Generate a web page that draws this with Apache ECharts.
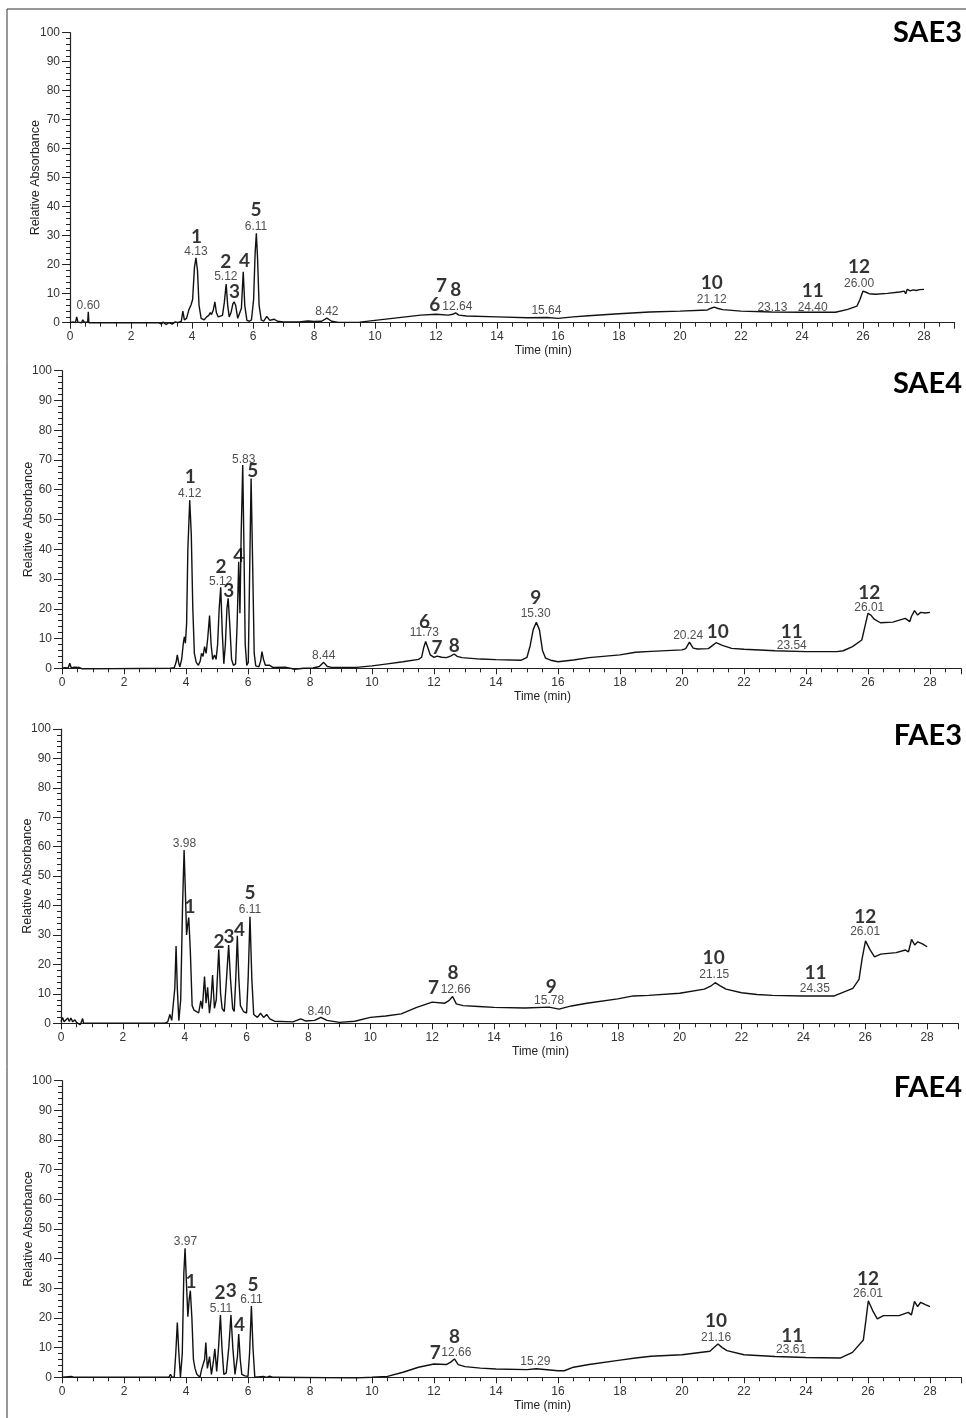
<!DOCTYPE html>
<html>
<head>
<meta charset="utf-8">
<script src="https://cdn.jsdelivr.net/npm/echarts@6/dist/echarts.min.js"></script>
<style>
html,body{margin:0;padding:0;background:#fff;}
#chart{width:966px;height:1418px;}
</style>
</head>
<body>
<div id="chart"></div>
<script>
// ---------- DATA ----------
const panelNames = ['SAE3', 'SAE4', 'FAE3', 'FAE4'];
const xTitle = 'Time (min)';
const yTitle = 'Relative Absorbance';

// SAE3
const t1 = [0.00,0.10,0.18,0.22,0.26,0.32,0.38,0.42,0.47,0.52,0.58,0.60,0.62,0.70,2.90,3.00,3.05,3.15,3.25,3.35,3.45,3.55,3.65,3.70,3.75,3.82,3.90,3.97,4.02,4.08,4.13,4.18,4.23,4.30,4.40,4.48,4.55,4.60,4.64,4.70,4.75,4.80,4.86,4.92,5.00,5.06,5.12,5.17,5.22,5.28,5.34,5.38,5.43,5.50,5.56,5.62,5.68,5.73,5.80,5.88,5.95,6.02,6.07,6.11,6.15,6.20,6.27,6.35,6.45,6.55,6.62,6.70,6.80,7.00,7.50,7.80,8.00,8.25,8.42,8.58,8.80,9.50,10.00,10.50,11.00,11.50,12.00,12.40,12.55,12.64,12.75,13.00,14.00,15.00,15.64,16.00,16.50,17.00,18.00,19.00,20.00,20.90,21.00,21.12,21.25,21.40,22.00,23.00,24.00,25.10,25.50,25.80,25.90,26.00,26.10,26.20,26.40,26.80,27.20,27.35,27.40,27.45,27.55,27.65,27.75,27.85,28.00];
const v1 = [0.0,0.3,0.0,2.0,0.2,0.8,0.0,1.0,0.2,0.0,0.2,3.8,0.0,0.0,0.0,-0.5,0.2,-0.6,0.0,-0.5,0.3,0.0,0.5,4.0,1.0,1.5,4.5,6.2,8.0,19.0,22.4,18.0,6.0,1.5,1.0,2.0,2.5,3.5,2.8,4.5,7.2,3.5,2.0,2.0,2.5,7.0,13.3,6.0,2.0,3.5,6.5,7.2,6.0,1.5,1.0,5.0,17.6,6.0,0.8,0.5,1.0,8.0,24.0,30.8,22.0,6.0,1.0,0.5,2.2,0.8,1.0,1.2,0.5,0.3,0.3,0.6,0.4,0.5,1.6,0.5,0.1,0.2,0.8,1.4,2.0,2.6,2.9,2.6,2.9,3.4,2.6,2.3,2.0,1.7,1.8,1.5,2.0,2.4,3.1,3.7,4.0,4.4,4.9,5.4,4.9,4.5,4.0,3.7,3.6,3.6,4.6,5.7,8.0,10.9,10.5,10.0,9.8,10.1,10.6,10.9,10.0,11.5,11.0,11.3,11.1,11.4,11.5];

// SAE4
const t2 = [0.00,0.10,0.20,0.25,0.30,0.40,0.45,0.55,0.65,0.70,3.50,3.55,3.62,3.68,3.72,3.76,3.80,3.86,3.92,3.95,3.98,4.02,4.06,4.12,4.17,4.22,4.27,4.33,4.40,4.46,4.50,4.55,4.60,4.65,4.70,4.76,4.81,4.86,4.92,4.97,5.02,5.07,5.12,5.17,5.22,5.27,5.32,5.36,5.41,5.47,5.53,5.60,5.65,5.70,5.74,5.78,5.83,5.87,5.91,5.96,6.01,6.05,6.10,6.15,6.20,6.25,6.35,6.41,6.45,6.50,6.56,6.62,6.70,6.80,7.20,7.50,7.80,8.10,8.30,8.44,8.56,8.70,9.50,10.00,10.50,11.00,11.50,11.60,11.67,11.73,11.80,11.88,12.00,12.10,12.25,12.40,12.55,12.65,12.75,12.90,13.50,14.00,14.80,15.00,15.10,15.20,15.30,15.40,15.50,15.60,15.80,16.00,16.50,17.00,18.00,18.50,19.00,20.00,20.12,20.24,20.36,20.50,20.85,21.00,21.10,21.30,21.60,22.00,23.00,24.00,25.00,25.20,25.50,25.80,25.90,26.00,26.10,26.20,26.40,26.80,27.20,27.35,27.40,27.50,27.60,27.70,27.85,28.00];
const v2 = [0.0,0.2,0.1,1.7,0.1,0.4,0.0,0.3,-0.2,0.0,0.0,-0.4,0.2,2.0,4.5,2.0,0.5,3.0,9.0,10.6,8.4,15.0,40.0,56.5,45.0,20.0,5.0,2.0,1.0,2.5,5.0,4.0,7.3,5.0,10.0,17.7,8.0,3.0,4.5,3.0,8.0,20.0,27.2,12.0,1.5,8.0,20.0,23.5,15.0,3.0,1.0,1.5,15.0,35.8,18.5,45.0,68.3,40.0,8.0,1.0,2.0,30.0,63.8,35.0,5.0,0.8,0.5,2.5,5.6,3.0,1.0,1.5,1.0,0.3,0.4,-0.3,0.0,0.1,0.6,2.0,0.6,0.3,0.3,0.8,1.5,2.2,3.0,3.7,7.0,9.0,7.0,4.5,3.7,4.1,3.7,3.6,4.2,4.8,4.0,3.6,3.1,2.9,2.7,3.7,7.5,13.0,15.5,13.0,6.0,3.4,2.6,2.2,2.8,3.6,4.5,5.4,5.7,6.2,6.6,8.8,6.8,6.5,6.6,7.8,8.6,7.7,6.7,6.4,5.9,5.6,5.6,5.9,7.3,9.5,14.0,18.5,17.8,16.5,15.3,15.5,16.8,15.7,17.4,19.4,17.9,18.8,18.6,18.8];

// FAE3
const t3 = [0.00,0.05,0.10,0.15,0.22,0.27,0.32,0.38,0.45,0.50,0.56,0.62,0.66,0.70,0.73,0.80,3.35,3.40,3.45,3.52,3.58,3.63,3.68,3.72,3.76,3.81,3.87,3.93,3.98,4.02,4.06,4.09,4.13,4.18,4.24,4.30,4.38,4.45,4.52,4.57,4.64,4.69,4.74,4.80,4.85,4.90,4.96,5.02,5.10,5.16,5.21,5.28,5.35,5.42,5.48,5.55,5.60,5.65,5.70,5.75,5.80,5.90,6.00,6.05,6.11,6.17,6.23,6.35,6.45,6.55,6.65,6.75,6.90,7.50,7.75,7.90,8.20,8.40,8.60,9.00,9.50,10.00,10.50,11.00,11.50,12.00,12.40,12.55,12.66,12.78,13.00,13.50,14.00,15.00,15.78,16.10,16.50,17.00,18.00,18.50,19.00,20.00,20.80,21.00,21.15,21.30,21.50,22.00,22.50,23.00,24.00,25.00,25.20,25.60,25.80,25.90,26.01,26.15,26.30,26.50,27.00,27.30,27.40,27.50,27.60,27.70,27.85,28.00];
const v3 = [0.5,2.0,0.5,0.3,1.8,0.6,1.8,0.5,1.2,0.3,0.8,-0.5,0.5,1.6,0.0,0.0,0.0,-0.5,0.5,3.0,1.0,0.5,12.0,26.3,12.0,0.9,8.0,40.0,58.9,45.0,30.0,33.0,35.9,25.0,6.0,4.5,4.0,3.5,7.6,5.0,15.9,6.8,12.2,3.4,8.0,16.4,5.1,8.0,25.1,10.0,5.0,4.0,15.0,26.6,15.0,5.0,4.0,15.0,29.7,15.0,6.0,4.0,3.5,15.0,36.2,15.0,3.0,2.0,3.4,2.0,3.0,1.5,0.7,0.5,1.5,0.8,1.0,2.0,1.0,0.3,0.7,2.0,2.5,3.2,5.4,7.2,6.8,7.8,9.1,6.6,6.0,5.7,5.4,5.2,5.5,4.8,5.9,6.8,8.3,9.3,9.5,10.2,11.6,12.6,13.8,12.8,11.6,10.4,9.8,9.5,9.3,9.3,10.2,11.9,14.9,22.0,28.0,25.1,22.6,23.5,24.0,24.9,24.3,28.5,26.6,27.7,27.0,26.0];

// FAE4
const t4 = [0.00,0.30,0.40,3.45,3.50,3.55,3.62,3.67,3.72,3.77,3.82,3.88,3.93,3.97,4.01,4.06,4.10,4.14,4.19,4.24,4.29,4.35,4.45,4.50,4.55,4.60,4.64,4.69,4.76,4.82,4.88,4.93,4.99,5.05,5.11,5.16,5.22,5.30,5.38,5.45,5.51,5.58,5.62,5.66,5.70,5.75,5.80,5.90,6.00,6.05,6.11,6.16,6.22,6.50,6.60,6.70,6.80,9.50,10.00,10.50,11.00,11.50,12.00,12.40,12.55,12.66,12.78,13.00,13.50,14.00,15.00,15.30,16.00,16.20,16.50,17.00,18.00,18.50,19.00,20.00,20.90,21.05,21.16,21.30,21.45,22.00,23.00,24.00,25.10,25.50,25.85,25.93,26.01,26.15,26.30,26.50,27.00,27.30,27.40,27.50,27.60,27.70,27.85,28.00];
const v4 = [0.0,0.3,0.0,0.0,1.0,0.0,0.0,8.0,18.5,8.0,0.0,8.0,35.0,43.5,33.0,20.4,26.0,29.2,20.0,6.0,3.0,1.0,0.0,2.5,2.0,6.0,11.7,3.0,7.0,1.0,5.0,9.6,2.0,10.0,21.0,10.0,1.0,1.5,10.0,21.0,10.0,1.0,0.5,7.0,14.6,6.0,1.0,0.5,0.3,8.0,24.0,10.0,0.0,0.3,0.0,0.4,0.0,-0.2,0.0,0.3,1.7,3.4,4.5,4.3,5.2,6.2,4.3,3.6,3.1,2.8,2.6,2.9,2.2,2.2,3.4,4.3,5.8,6.5,7.1,7.6,8.8,10.2,11.2,10.0,9.0,7.6,7.0,6.7,6.5,8.4,12.6,19.0,25.8,22.5,19.7,20.8,20.8,21.9,21.0,25.6,23.8,25.3,24.5,23.8];

// Peak number labels [time, absorbance, text]
const peaks1 = [[4.15,29.7,'1'],[5.11,21.0,'2'],[5.39,10.7,'3'],[5.72,21.4,'4'],[6.10,38.9,'5'],[11.96,6.3,'6'],[12.18,12.8,'7'],[12.65,11.2,'8'],[21.04,13.6,'10'],[24.35,11.0,'11'],[25.87,19.2,'12']];
const peaks2 = [[4.14,64.4,'1'],[5.13,34.2,'2'],[5.38,26.1,'3'],[5.70,37.9,'4'],[6.15,66.4,'5'],[11.69,15.7,'6'],[12.10,6.9,'7'],[12.65,7.5,'8'],[15.28,23.5,'9'],[21.15,12.2,'10'],[23.54,12.3,'11'],[26.04,25.4,'12']];
const peaks3 = [[4.17,39.6,'1'],[5.11,27.7,'2'],[5.43,29.4,'3'],[5.77,31.9,'4'],[6.11,44.4,'5'],[12.04,12.2,'7'],[12.67,17.0,'8'],[15.85,12.5,'9'],[21.10,22.1,'10'],[24.39,17.2,'11'],[26.00,36.2,'12']];
const peaks4 = [[4.16,32.2,'1'],[5.10,28.3,'2'],[5.46,29.0,'3'],[5.73,17.6,'4'],[6.16,31.1,'5'],[12.04,8.1,'7'],[12.66,13.7,'8'],[21.10,19.1,'10'],[23.56,14.0,'11'],[26.00,33.1,'12']];

// Retention time labels [time, absorbance, text]
const rts1 = [[0.60,5.7,'0.60'],[4.13,24.5,'4.13'],[5.11,15.9,'5.12'],[6.10,33.1,'6.11'],[8.42,3.9,'8.42'],[12.70,5.5,'12.64'],[15.62,4.2,'15.64'],[21.04,7.8,'21.12'],[23.03,5.3,'23.13'],[24.35,5.3,'24.40'],[25.87,13.5,'26.00']];
const rts2 = [[4.12,58.8,'4.12'],[5.12,29.1,'5.12'],[5.86,70.2,'5.83'],[8.44,4.2,'8.44'],[11.69,11.8,'11.73'],[15.28,18.2,'15.30'],[20.20,10.9,'20.24'],[23.54,7.7,'23.54'],[26.04,20.5,'26.01']];
const rts3 = [[3.99,61.2,'3.98'],[6.11,38.7,'6.11'],[8.35,4.0,'8.40'],[12.76,11.3,'12.66'],[15.78,7.6,'15.78'],[21.12,16.4,'21.15'],[24.37,11.6,'24.35'],[26.00,31.1,'26.01']];
const rts4 = [[3.98,45.7,'3.97'],[5.13,23.3,'5.11'],[6.11,26.3,'6.11'],[12.72,8.4,'12.66'],[15.27,5.1,'15.29'],[21.10,13.5,'21.16'],[23.52,9.2,'23.61'],[26.00,28.1,'26.01']];

const xTicks = {min: 0, max: 29, interval: 2};
const yTicks = {min: 0, max: 100, interval: 10};

// ---------- LAYOUT ----------
const traces = [[t1,v1],[t2,v2],[t3,v3],[t4,v4]];
const peakSets = [peaks1, peaks2, peaks3, peaks4];
const rtSets = [rts1, rts2, rts3, rts4];
const grids = [
  {left: 70, top: 32.7, width: 884.5, height: 290},
  {left: 62, top: 370.7, width: 899, height: 297.6},
  {left: 61, top: 729, width: 897, height: 294.3},
  {left: 62, top: 1080.7, width: 899, height: 296.6}
];
const titleY = [33, 384, 736, 1088];
const yNameGap = [28, 27, 27, 27];

const axisColor = '#222';
const txtFont = '"Liberation Sans", Arial, sans-serif';
const boldFont = 'Lato, "Open Sans", sans-serif';

const option = {
  animation: false,
  backgroundColor: '#fff',
  grid: grids.map(g => Object.assign({containLabel: false}, g)),
  xAxis: grids.map((g, i) => ({
    type: 'value', gridIndex: i,
    min: xTicks.min, max: xTicks.max, interval: xTicks.interval,
    name: xTitle, nameLocation: 'middle', nameGap: 22, nameMoveOverlap: false,
    nameTextStyle: {fontFamily: txtFont, fontSize: 12, color: '#222', padding: [0, 0, 0, 62]},
    axisLine: {show: true, lineStyle: {color: axisColor, width: 1.2}},
    axisTick: {show: true, inside: false, length: 6, lineStyle: {color: axisColor}},
    minorTick: {show: true, splitNumber: 4, length: 4, lineStyle: {color: axisColor}},
    splitLine: {show: false},
    axisLabel: {fontFamily: txtFont, fontSize: 12, color: '#333', margin: 8, showMaxLabel: false}
  })),
  yAxis: grids.map((g, i) => ({
    type: 'value', gridIndex: i,
    min: yTicks.min, max: yTicks.max, interval: yTicks.interval,
    name: yTitle, nameLocation: 'middle', nameGap: yNameGap[i], nameMoveOverlap: false,
    nameTextStyle: {fontFamily: txtFont, fontSize: 12.5, color: '#222'},
    axisLine: {show: true, lineStyle: {color: axisColor, width: 1.2}},
    axisTick: {show: true, inside: false, length: 8, lineStyle: {color: axisColor}},
    minorTick: {show: true, splitNumber: 5, length: 4, lineStyle: {color: axisColor}},
    splitLine: {show: false},
    axisLabel: {fontFamily: txtFont, fontSize: 12, color: '#333', margin: 10}
  })),
  series: [],
  graphic: [
    {type: 'rect', shape: {x: 7, y: 9, width: 1200, height: 1600}, style: {fill: 'none', stroke: '#333', lineWidth: 1}, silent: true}
  ]
};

traces.forEach(([t, v], i) => {
  option.series.push({
    type: 'line', xAxisIndex: i, yAxisIndex: i,
    data: t.map((x, k) => [x, v[k]]),
    showSymbol: false, symbol: 'none', clip: false,
    lineStyle: {color: '#111', width: 1.4},
    z: 3
  });
  option.series.push({
    type: 'scatter', xAxisIndex: i, yAxisIndex: i,
    data: peakSets[i], symbolSize: 1, itemStyle: {color: 'transparent'}, silent: true, z: 5,
    label: {show: true, position: 'inside', formatter: p => p.data[2],
      fontFamily: boldFont, fontWeight: 'bold', fontSize: 19, color: '#000'}
  });
  option.series.push({
    type: 'scatter', xAxisIndex: i, yAxisIndex: i,
    data: rtSets[i], symbolSize: 1, itemStyle: {color: 'transparent'}, silent: true, z: 5,
    label: {show: true, position: 'inside', formatter: p => p.data[2],
      fontFamily: txtFont, fontSize: 12, color: '#222'}
  });
  option.graphic.push({
    type: 'text', x: 962, y: titleY[i], silent: true,
    style: {text: panelNames[i], fontFamily: boldFont, fontWeight: 'bold', fontSize: 29,
      fill: '#000', textAlign: 'right', textVerticalAlign: 'middle'}
  });
});

const chart = echarts.init(document.getElementById('chart'), null, {renderer: 'canvas'});
chart.setOption(option);
</script>
</body>
</html>
